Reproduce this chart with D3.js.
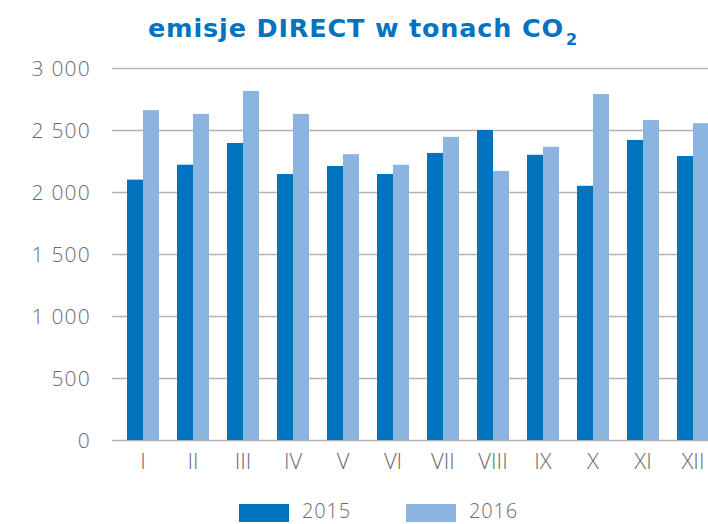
<!DOCTYPE html>
<html><head><meta charset="utf-8">
<script src="https://cdn.jsdelivr.net/npm/d3@7"></script>
<style>body{margin:0;background:#fff}svg{display:block}</style>
</head><body>
<svg id="c" width="708" height="524"></svg>
<script>
const months = ["I","II","III","IV","V","VI","VII","VIII","IX","X","XI","XII"];
const series = ["2015","2016"];
const v2015 = [2100,2220,2395,2145,2210,2145,2315,2500,2300,2050,2420,2290];
const v2016 = [2660,2630,2815,2630,2305,2220,2445,2170,2365,2790,2580,2555];
const yTicks = [0,500,1000,1500,2000,2500,3000];
const yTickLabels = ["0","500","1\u00a0000","1\u00a0500","2\u00a0000","2\u00a0500","3\u00a0000"];
const colors = ["#0173bf","#8cb4e0"];

const svg = d3.select("#c");
const font = "'Open Sans', sans-serif";
const y = d3.scaleLinear().domain([0,3000]).range([440,68]);
const x = d3.scaleBand().domain(months).range([118,718]).paddingInner(0.36).paddingOuter(0.18);
const xs = d3.scaleBand().domain(series).range([0,x.bandwidth()]);

// gridlines
const yAxis = d3.axisLeft(y).tickValues(yTicks).tickSize(-(708-112)).tickFormat((d,i)=>yTickLabels[i]);
const gy = svg.append("g").attr("transform","translate(112,0)").call(yAxis);
gy.select(".domain").remove();
gy.selectAll(".tick line").attr("stroke","#b3b3b3").attr("stroke-width",1.6);
gy.selectAll(".tick text").attr("fill","#6b6b6b").attr("font-family",font).attr("font-size",21).attr("font-weight",300).attr("letter-spacing",1.2).attr("dy","0.35em").attr("x",-21);

// bars
const data = months.map((m,i)=>({m, vals:[v2015[i],v2016[i]]}));
const g = svg.append("g");
g.selectAll("g.grp").data(data).join("g").attr("class","grp")
  .attr("transform",d=>`translate(${x(d.m)},0)`)
  .selectAll("rect").data(d=>d.vals.map((v,j)=>({s:series[j],v,j}))).join("rect")
  .attr("x",d=>xs(d.s)).attr("width",xs.bandwidth())
  .attr("y",d=>y(d.v)).attr("height",d=>y(0)-y(d.v))
  .attr("fill",d=>colors[d.j]);

// x axis labels
const xAxis = d3.axisBottom(x).tickSize(0).tickPadding(0);
const gx = svg.append("g").attr("transform","translate(0,440)").call(xAxis);
gx.select(".domain").remove();
gx.selectAll(".tick text").attr("fill","#6b6b6b").attr("font-family",font).attr("font-size",22).attr("font-weight",300).attr("dy",null).attr("y",29);

// title
const t = svg.append("text").attr("x",148).attr("y",37).attr("fill","#0173bf")
  .attr("font-family","'DejaVu Sans', sans-serif").attr("font-weight",700).attr("font-size",25.5);
const t1 = t.append("tspan").text("emisje DIRECT w tonach CO");
t.append("tspan").attr("font-size",16).attr("dy",8).attr("dx",2).text("2");
const w = t1.node().getComputedTextLength();
const n = "emisje DIRECT w tonach CO".length;
t1.attr("letter-spacing", Math.max(0,(416 - w)/n));

// legend
const lg = svg.append("g");
const lx = [239,406];
series.forEach((s,i)=>{
  lg.append("rect").attr("x",lx[i]).attr("y",504).attr("width",50).attr("height",18).attr("fill",colors[i]);
  lg.append("text").attr("x",lx[i]+63).attr("y",518).attr("fill","#6b6b6b").attr("font-family",font).attr("font-size",20).attr("font-weight",300).attr("letter-spacing",0.8).text(s);
});
</script>
</body></html>
